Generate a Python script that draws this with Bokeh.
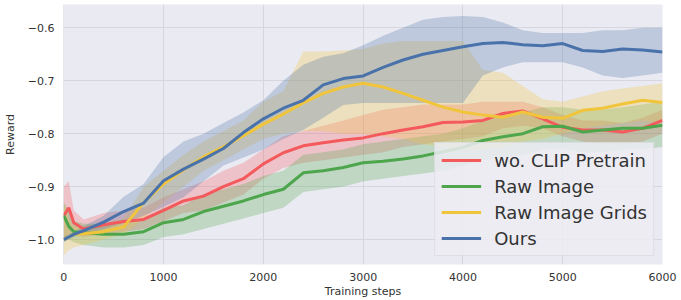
from bokeh.plotting import figure
from bokeh.models import Legend, LegendItem, CustomJSTickFormatter, FixedTicker, Range1d
from bokeh.embed import file_html
from bokeh.resources import INLINE

steps = [0, 50, 100, 200, 400, 600, 800, 1000, 1200, 1400, 1600, 1800, 2000, 2200, 2400, 2600,
         2800, 3000, 3200, 3400, 3600, 3800, 4000, 4200, 4400, 4600, 4800, 5000, 5200, 5400, 5600, 5800, 6000]

x_ticks = [0, 1000, 2000, 3000, 4000, 5000, 6000]
y_ticks = [-1.0, -0.9, -0.8, -0.7, -0.6]

labels = ["wo. CLIP Pretrain", "Raw Image", "Raw Image Grids", "Ours"]
colors = ["#f45a5c", "#4ea64c", "#f0c53c", "#4a72aa"]

red_mean = [-0.955, -0.94, -0.968, -0.98, -0.972, -0.966, -0.962, -0.945, -0.927, -0.918, -0.90, -0.885, -0.857,
            -0.836, -0.823, -0.817, -0.812, -0.808, -0.80, -0.793, -0.787, -0.779, -0.778, -0.775, -0.762, -0.757,
            -0.772, -0.788, -0.793, -0.793, -0.797, -0.79, -0.775]
red_lo = [-1.0, -0.99, -0.99, -0.995, -0.99, -0.985, -0.98, -0.965, -0.95, -0.945, -0.93, -0.915, -0.885, -0.865,
          -0.855, -0.85, -0.845, -0.84, -0.835, -0.825, -0.82, -0.815, -0.81, -0.805, -0.79, -0.785, -0.79, -0.805,
          -0.815, -0.82, -0.82, -0.815, -0.80]
red_hi = [-0.90, -0.89, -0.945, -0.962, -0.95, -0.945, -0.94, -0.92, -0.905, -0.89, -0.87, -0.855, -0.83, -0.805,
          -0.795, -0.785, -0.775, -0.765, -0.755, -0.75, -0.745, -0.745, -0.745, -0.74, -0.74, -0.74, -0.75,
          -0.765, -0.775, -0.775, -0.78, -0.77, -0.755]

green_mean = [-0.955, -0.975, -0.985, -0.987, -0.99, -0.99, -0.985, -0.968, -0.962, -0.947, -0.937, -0.927,
              -0.915, -0.905, -0.874, -0.870, -0.864, -0.855, -0.852, -0.848, -0.842, -0.834, -0.826, -0.813,
              -0.806, -0.80, -0.787, -0.786, -0.797, -0.793, -0.79, -0.79, -0.784]
green_lo = [-1.0, -1.0, -1.005, -1.01, -1.015, -1.015, -1.01, -0.995, -0.99, -0.98, -0.97, -0.96, -0.95, -0.94,
            -0.91, -0.905, -0.90, -0.89, -0.885, -0.88, -0.875, -0.87, -0.86, -0.85, -0.845, -0.84, -0.83, -0.83,
            -0.835, -0.835, -0.83, -0.83, -0.825]
green_hi = [-0.93, -0.945, -0.965, -0.97, -0.97, -0.965, -0.96, -0.94, -0.935, -0.915, -0.905, -0.895, -0.88,
            -0.87, -0.84, -0.835, -0.83, -0.82, -0.815, -0.81, -0.805, -0.80, -0.79, -0.775, -0.765, -0.76, -0.75,
            -0.75, -0.755, -0.755, -0.75, -0.745, -0.74]

yellow_mean = [-1.0, -0.995, -0.99, -0.989, -0.985, -0.976, -0.93, -0.895, -0.868, -0.844, -0.825, -0.804,
               -0.782, -0.763, -0.742, -0.724, -0.712, -0.705, -0.712, -0.724, -0.737, -0.75, -0.759, -0.765,
               -0.769, -0.759, -0.769, -0.771, -0.756, -0.752, -0.744, -0.737, -0.741]
yellow_lo = [-1.03, -1.02, -1.015, -1.01, -1.0, -0.99, -0.96, -0.93, -0.90, -0.87, -0.85, -0.83, -0.81, -0.80,
             -0.795, -0.795, -0.80, -0.80, -0.805, -0.81, -0.82, -0.825, -0.83, -0.83, -0.825, -0.815, -0.81,
             -0.80, -0.79, -0.785, -0.78, -0.775, -0.78]
yellow_hi = [-0.93, -0.96, -0.975, -0.975, -0.97, -0.96, -0.90, -0.87, -0.84, -0.815, -0.795, -0.775, -0.74,
             -0.72, -0.645, -0.645, -0.643, -0.64, -0.63, -0.625, -0.625, -0.625, -0.625, -0.68, -0.685, -0.71,
             -0.735, -0.74, -0.73, -0.72, -0.715, -0.71, -0.705]

ours_mean = [-1.0, -0.995, -0.99, -0.983, -0.967, -0.947, -0.931, -0.889, -0.867, -0.848, -0.828, -0.798, -0.772,
             -0.752, -0.737, -0.708, -0.696, -0.691, -0.675, -0.661, -0.650, -0.643, -0.636, -0.630, -0.628,
             -0.632, -0.634, -0.630, -0.643, -0.645, -0.640, -0.642, -0.646]
ours_lo = [-1.005, -1.0, -0.995, -0.99, -0.98, -0.968, -0.955, -0.938, -0.92, -0.89, -0.86, -0.845, -0.83, -0.81,
           -0.793, -0.77, -0.746, -0.742, -0.742, -0.742, -0.742, -0.742, -0.742, -0.69, -0.675, -0.665, -0.665,
           -0.665, -0.675, -0.69, -0.695, -0.69, -0.685]
ours_hi = [-0.995, -0.99, -0.985, -0.975, -0.955, -0.919, -0.895, -0.844, -0.815, -0.80, -0.78, -0.76, -0.737,
           -0.70, -0.67, -0.655, -0.648, -0.633, -0.615, -0.60, -0.585, -0.58, -0.578, -0.58, -0.59, -0.605,
           -0.61, -0.61, -0.61, -0.605, -0.605, -0.60, -0.60]

series = [
    (red_mean, red_lo, red_hi),
    (green_mean, green_lo, green_hi),
    (yellow_mean, yellow_lo, yellow_hi),
    (ours_mean, ours_lo, ours_hi),
]

FONT = "DejaVu Sans"
TXT = "#333333"

p = figure(width=681, height=300, x_range=Range1d(-3, 6000), y_range=Range1d(-1.047, -0.5562),
           output_backend="svg", toolbar_location=None,
           min_border_left=61, min_border_right=19, min_border_top=4, min_border_bottom=35,
           background_fill_color="#eaeaf2", border_fill_color="white", outline_line_color=None)

p.xaxis.ticker = FixedTicker(ticks=x_ticks)
p.yaxis.ticker = FixedTicker(ticks=y_ticks)
p.xgrid.ticker = FixedTicker(ticks=x_ticks)
p.ygrid.ticker = FixedTicker(ticks=y_ticks)
p.grid.grid_line_color = "#d6d6de"
p.grid.grid_line_width = 1
p.yaxis.formatter = CustomJSTickFormatter(code="return (tick < 0 ? '\u2212' : '') + Math.abs(tick).toFixed(1);")

p.axis.axis_line_color = None
p.axis.major_tick_line_color = None
p.axis.minor_tick_line_color = None
p.axis.major_tick_out = 0
p.axis.minor_tick_out = 0
p.axis.major_label_text_font = FONT
p.axis.major_label_text_font_size = "11px"
p.axis.major_label_text_color = TXT
p.axis.axis_label_text_font = FONT
p.axis.axis_label_text_font_size = "11px"
p.axis.axis_label_text_font_style = "normal"
p.axis.axis_label_text_color = TXT
p.xaxis.axis_label = "Training steps"
p.yaxis.axis_label = "Reward"
p.xaxis.major_label_standoff = 8
p.xaxis.axis_label_standoff = 1
p.yaxis.major_label_standoff = 9
p.yaxis.axis_label_standoff = 8

for (m, lo, hi), c in zip(series, colors):
    p.varea(x=steps, y1=lo, y2=hi, fill_color=c, fill_alpha=0.28)

items = []
for (m, lo, hi), c, lab in zip(series, colors, labels):
    r = p.line(x=steps, y=m, line_color=c, line_width=3)
    items.append(LegendItem(label=lab, renderers=[r]))

legend = Legend(items=items, location="bottom_right", margin=8, padding=6, spacing=4,
                label_text_font=FONT, label_text_font_size="18px", label_text_color=TXT,
                glyph_width=40, glyph_height=22, label_height=22, label_standoff=13,
                background_fill_color="#ececf2", background_fill_alpha=0.85,
                border_line_color="#cfcfd6", border_line_width=1)
p.add_layout(legend)

open("out.html", "w").write(file_html(p, INLINE))
